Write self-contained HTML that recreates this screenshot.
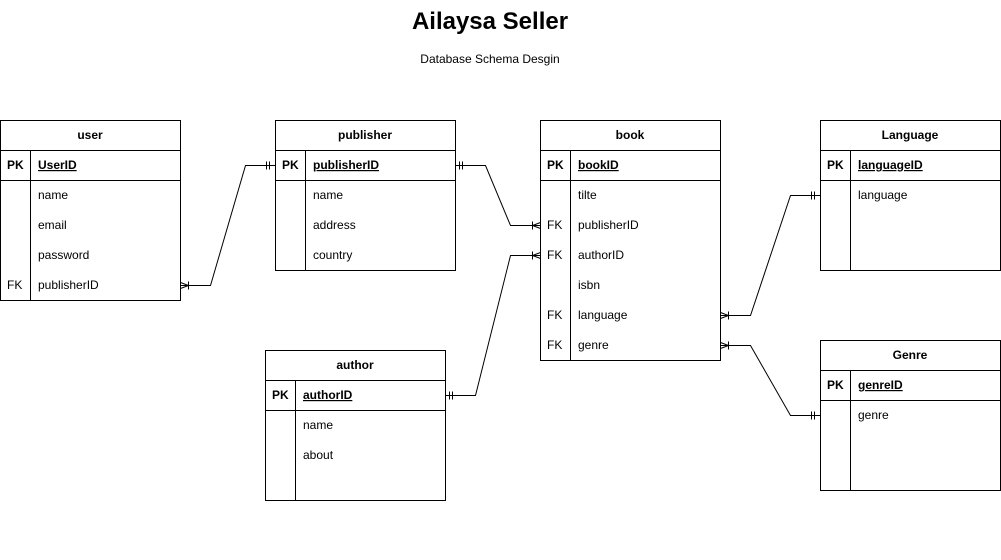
<!DOCTYPE html>
<html><head><meta charset="utf-8"><style>
html,body{margin:0;padding:0;background:#fff;}
svg{display:block;}
text{font-family:"Liberation Sans",sans-serif;fill:#000;}
</style></head><body>
<svg width="1001" height="560" viewBox="0 0 1001 560" xmlns="http://www.w3.org/2000/svg">
<rect width="1001" height="560" fill="#fff"/>
<text x="490" y="29" font-size="24" font-weight="bold" text-anchor="middle">Ailaysa Seller</text>
<text x="490" y="63" font-size="12" text-anchor="middle">Database Schema Desgin</text>

<g fill="none" stroke="#000" stroke-width="1">
<!-- user -->
<rect x="0.5" y="120.5" width="180" height="180"/>
<line x1="0.5" y1="150.5" x2="180.5" y2="150.5"/>
<line x1="0.5" y1="180.5" x2="180.5" y2="180.5"/>
<line x1="30.5" y1="150.5" x2="30.5" y2="300.5"/>
<!-- publisher -->
<rect x="275.5" y="120.5" width="180" height="150"/>
<line x1="275.5" y1="150.5" x2="455.5" y2="150.5"/>
<line x1="275.5" y1="180.5" x2="455.5" y2="180.5"/>
<line x1="305.5" y1="150.5" x2="305.5" y2="270.5"/>
<!-- book -->
<rect x="540.5" y="120.5" width="180" height="240"/>
<line x1="540.5" y1="150.5" x2="720.5" y2="150.5"/>
<line x1="540.5" y1="180.5" x2="720.5" y2="180.5"/>
<line x1="570.5" y1="150.5" x2="570.5" y2="360.5"/>
<!-- Language -->
<rect x="820.5" y="120.5" width="180" height="150"/>
<line x1="820.5" y1="150.5" x2="1000.5" y2="150.5"/>
<line x1="820.5" y1="180.5" x2="1000.5" y2="180.5"/>
<line x1="850.5" y1="150.5" x2="850.5" y2="270.5"/>
<!-- author -->
<rect x="265.5" y="350.5" width="180" height="150"/>
<line x1="265.5" y1="380.5" x2="445.5" y2="380.5"/>
<line x1="265.5" y1="410.5" x2="445.5" y2="410.5"/>
<line x1="295.5" y1="380.5" x2="295.5" y2="500.5"/>
<!-- Genre -->
<rect x="820.5" y="340.5" width="180" height="150"/>
<line x1="820.5" y1="370.5" x2="1000.5" y2="370.5"/>
<line x1="820.5" y1="400.5" x2="1000.5" y2="400.5"/>
<line x1="850.5" y1="370.5" x2="850.5" y2="490.5"/>

<!-- connectors -->
<polyline points="180.5,285.5 210.5,285.5 245.5,165.5 275.5,165.5"/>
<polyline points="455.5,165.5 485.5,165.5 510.5,225.5 540.5,225.5"/>
<polyline points="445.5,395.5 475.5,395.5 510.5,255.5 540.5,255.5"/>
<polyline points="720.5,315.5 750.5,315.5 790.5,195.5 820.5,195.5"/>
<polyline points="720.5,345.5 750.5,345.5 790.5,415.5 820.5,415.5"/>

<!-- many markers -->
<path d="M180.5,282.5 L188.5,285.5 L180.5,288.5 M188.5,281.5 V289.5"/>
<path d="M540.5,222.5 L532.5,225.5 L540.5,228.5 M532.5,221.5 V229.5"/>
<path d="M540.5,252.5 L532.5,255.5 L540.5,258.5 M532.5,251.5 V259.5"/>
<path d="M720.5,312.5 L728.5,315.5 L720.5,318.5 M728.5,311.5 V319.5"/>
<path d="M720.5,342.5 L728.5,345.5 L720.5,348.5 M728.5,341.5 V349.5"/>
<!-- one markers -->
<path d="M266.5,161.5 V169.5 M269.5,161.5 V169.5"/>
<path d="M459.5,161.5 V169.5 M462.5,161.5 V169.5"/>
<path d="M449.5,391.5 V399.5 M452.5,391.5 V399.5"/>
<path d="M811.5,191.5 V199.5 M814.5,191.5 V199.5"/>
<path d="M811.5,411.5 V419.5 M814.5,411.5 V419.5"/>
</g>

<g font-size="12">
<text x="90" y="139" font-weight="bold" text-anchor="middle">user</text>
<text x="7" y="169" font-weight="bold">PK</text>
<text x="38" y="169" font-weight="bold" text-decoration="underline">UserID</text>
<text x="38" y="199">name</text>
<text x="38" y="229">email</text>
<text x="38" y="259">password</text>
<text x="7" y="289">FK</text>
<text x="38" y="289">publisherID</text>

<text x="365" y="139" font-weight="bold" text-anchor="middle">publisher</text>
<text x="282" y="169" font-weight="bold">PK</text>
<text x="313" y="169" font-weight="bold" text-decoration="underline">publisherID</text>
<text x="313" y="199">name</text>
<text x="313" y="229">address</text>
<text x="313" y="259">country</text>

<text x="630" y="139" font-weight="bold" text-anchor="middle">book</text>
<text x="547" y="169" font-weight="bold">PK</text>
<text x="578" y="169" font-weight="bold" text-decoration="underline">bookID</text>
<text x="578" y="199">tilte</text>
<text x="547" y="229">FK</text>
<text x="578" y="229">publisherID</text>
<text x="547" y="259">FK</text>
<text x="578" y="259">authorID</text>
<text x="578" y="289">isbn</text>
<text x="547" y="319">FK</text>
<text x="578" y="319">language</text>
<text x="547" y="349">FK</text>
<text x="578" y="349">genre</text>

<text x="910" y="139" font-weight="bold" text-anchor="middle">Language</text>
<text x="827" y="169" font-weight="bold">PK</text>
<text x="858" y="169" font-weight="bold" text-decoration="underline">languageID</text>
<text x="858" y="199">language</text>

<text x="355" y="369" font-weight="bold" text-anchor="middle">author</text>
<text x="272" y="399" font-weight="bold">PK</text>
<text x="303" y="399" font-weight="bold" text-decoration="underline">authorID</text>
<text x="303" y="429">name</text>
<text x="303" y="459">about</text>

<text x="910" y="359" font-weight="bold" text-anchor="middle">Genre</text>
<text x="827" y="389" font-weight="bold">PK</text>
<text x="858" y="389" font-weight="bold" text-decoration="underline">genreID</text>
<text x="858" y="419">genre</text>
</g>
</svg>
</body></html>
